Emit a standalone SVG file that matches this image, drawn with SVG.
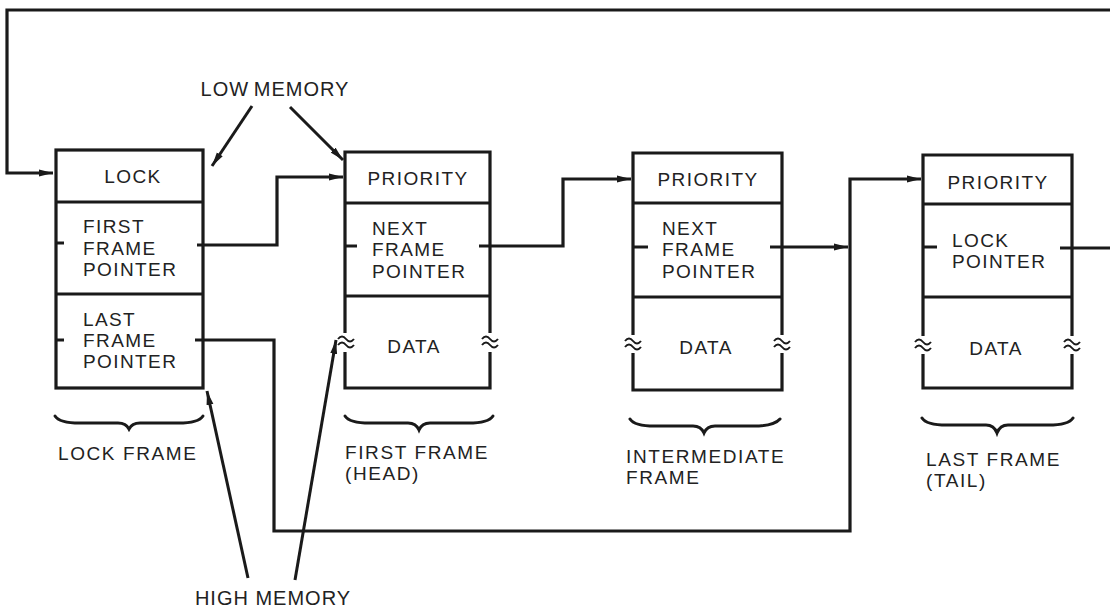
<svg xmlns="http://www.w3.org/2000/svg" width="1110" height="610" viewBox="0 0 1110 610">
<style>
  .box { fill: none; stroke: #1a1a1a; stroke-width: 3.2; }
  .div { stroke: #1a1a1a; stroke-width: 3.2; }
  .tick { stroke: #1a1a1a; stroke-width: 3; }
  .con { fill: none; stroke: #1a1a1a; stroke-width: 3.2; stroke-linejoin: miter; }
  .ptr { fill: none; stroke: #1a1a1a; stroke-width: 3; }
  .brace { fill: none; stroke: #1a1a1a; stroke-width: 3; stroke-linecap: round; }
  .brk { fill: none; stroke: #1a1a1a; stroke-width: 2; }
  .t { font-family: "Liberation Sans", Arial, sans-serif; font-size: 19px; fill: #222; letter-spacing: 1.4px; }
  .c { text-anchor: middle; }
  .lbl { font-family: "Liberation Sans", Arial, sans-serif; font-size: 19px; fill: #222; letter-spacing: 1.6px; }
  .mem { font-family: "Liberation Sans", Arial, sans-serif; font-size: 20px; fill: #222; letter-spacing: 1px; text-anchor: middle; }
</style>
<defs>
  <marker id="ah" viewBox="0 0 14 8" refX="14" refY="4" markerWidth="14" markerHeight="8" markerUnits="userSpaceOnUse" orient="auto">
    <path d="M0,0.5 L14,4 L0,7.5 Z" fill="#1a1a1a"/>
  </marker>
  <g id="brk">
    <path class="brk" d="M-8,-2 q4,-5 8,0 t8,0"/>
    <path class="brk" d="M-8,4 q4,-5 8,0 t8,0"/>
  </g>
</defs>
<rect width="1110" height="610" fill="#ffffff"/>

<g id="connectors">
  <path class="con" d="M1110,10 H7 V173 H53" marker-end="url(#ah)"/>
  <path class="con" d="M197,245 H277 V177 H343" marker-end="url(#ah)"/>
  <path class="con" d="M195,340 H274 V531 H850 V179 H921" marker-end="url(#ah)"/>
  <path class="con" d="M479,246 H563 V179 H631" marker-end="url(#ah)"/>
  <path class="con" d="M770,247 H848" marker-end="url(#ah)"/>
  <path class="con" d="M1060,248 H1110"/>
  <path class="ptr" d="M252,106 L212,166" marker-end="url(#ah)"/>
  <path class="ptr" d="M290,107 L343,160" marker-end="url(#ah)"/>
  <path class="ptr" d="M248,578 L207,391" marker-end="url(#ah)"/>
  <path class="ptr" d="M295,580 L336,340" marker-end="url(#ah)"/>
</g>

<g id="low-memory">
  <text class="mem" x="275" y="96" word-spacing="-2">LOW MEMORY</text>
</g>
<g id="high-memory">
  <text class="mem" x="273" y="605">HIGH MEMORY</text>
</g>

<g id="lock-frame">
  <rect class="box" x="56" y="150" width="147" height="238"/>
  <line class="div" x1="56" y1="202" x2="203" y2="202"/>
  <line class="div" x1="56" y1="294" x2="203" y2="294"/>
  <line class="tick" x1="56" y1="243" x2="64" y2="243"/>
  <line class="tick" x1="56" y1="340" x2="64" y2="340"/>
  <text class="t c" x="133" y="183">LOCK</text>
  <text class="t" x="83" y="233">FIRST</text>
  <text class="t" x="83" y="255">FRAME</text>
  <text class="t" x="83" y="276">POINTER</text>
  <text class="t" x="83" y="326">LAST</text>
  <text class="t" x="83" y="347">FRAME</text>
  <text class="t" x="83" y="368">POINTER</text>
  <path class="brace" d="M55,416 Q60,424 85,423 L118,423 Q126,423 129,429 Q132,423 140,423 L173,423 Q198,424 203,416"/>
  <text class="lbl" x="58" y="460">LOCK FRAME</text>
</g>

<g id="first-frame">
  <path class="box" d="M345,333 V152 H490 V333 M345,352 V388 H490 V352"/>
  <line class="div" x1="345" y1="203" x2="490" y2="203"/>
  <line class="div" x1="345" y1="296" x2="490" y2="296"/>
  <line class="tick" x1="345" y1="246" x2="357" y2="246"/>
  <use href="#brk" x="346" y="341"/>
  <use href="#brk" x="490" y="341"/>
  <text class="t c" x="418" y="185">PRIORITY</text>
  <text class="t" x="372" y="235">NEXT</text>
  <text class="t" x="372" y="256">FRAME</text>
  <text class="t" x="372" y="278">POINTER</text>
  <text class="t c" x="414" y="353">DATA</text>
  <path class="brace" d="M345,416 Q350,424 375,423 L408,423 Q416,423 419,430 Q422,423 430,423 L463,423 Q488,424 493,416"/>
  <text class="lbl" x="345" y="459">FIRST FRAME</text>
  <text class="lbl" x="345" y="480">(HEAD)</text>
</g>

<g id="intermediate-frame">
  <path class="box" d="M633,335 V153 H782 V335 M633,353 V390 H782 V353"/>
  <line class="div" x1="633" y1="203" x2="782" y2="203"/>
  <line class="div" x1="633" y1="297" x2="782" y2="297"/>
  <line class="tick" x1="633" y1="247" x2="648" y2="247"/>
  <use href="#brk" x="633" y="343"/>
  <use href="#brk" x="782" y="343"/>
  <text class="t c" x="708" y="186">PRIORITY</text>
  <text class="t" x="662" y="235">NEXT</text>
  <text class="t" x="662" y="256">FRAME</text>
  <text class="t" x="662" y="278">POINTER</text>
  <text class="t c" x="706" y="354">DATA</text>
  <path class="brace" d="M630,419 Q635,427 660,426 L693,426 Q701,426 704,433 Q707,426 715,426 L748,426 Q773,427 780,419"/>
  <text class="lbl" x="626" y="463">INTERMEDIATE</text>
  <text class="lbl" x="626" y="484">FRAME</text>
</g>

<g id="last-frame">
  <path class="box" d="M923,336 V155 H1072 V336 M923,354 V388 H1072 V354"/>
  <line class="div" x1="923" y1="204" x2="1072" y2="204"/>
  <line class="div" x1="923" y1="297" x2="1072" y2="297"/>
  <line class="tick" x1="923" y1="247" x2="937" y2="247"/>
  <use href="#brk" x="923" y="344"/>
  <use href="#brk" x="1072" y="344"/>
  <text class="t c" x="998" y="189">PRIORITY</text>
  <text class="t" x="952" y="247">LOCK</text>
  <text class="t" x="952" y="268">POINTER</text>
  <text class="t c" x="996" y="355">DATA</text>
  <path class="brace" d="M922,418 Q927,426 952,425 L986,425 Q994,425 997,433 Q1000,425 1008,425 L1043,425 Q1068,426 1073,418"/>
  <text class="lbl" x="926" y="466">LAST FRAME</text>
  <text class="lbl" x="926" y="487">(TAIL)</text>
</g>
</svg>
